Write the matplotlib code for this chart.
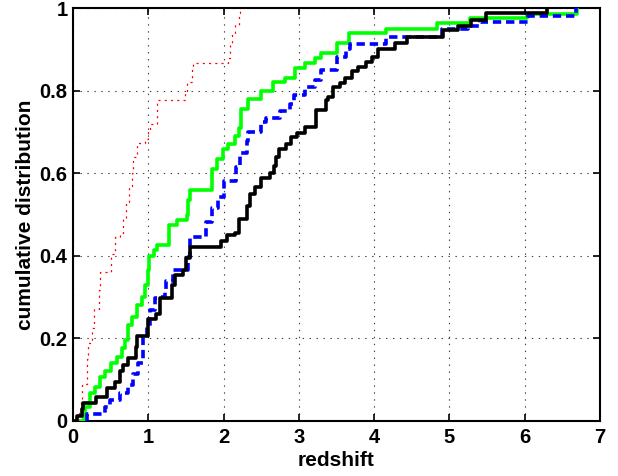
import matplotlib
matplotlib.use("Agg")
import matplotlib.pyplot as plt
import numpy as np

plt.rcParams['font.family'] = ['Liberation Sans', 'DejaVu Sans']
plt.rcParams['font.weight'] = 'bold'
plt.rcParams['lines.scale_dashes'] = False

# step CDFs: x where each jump occurs, and the level after the jump
red_x = [0.08, 0.08, 0.10, 0.12, 0.18, 0.19, 0.20, 0.25, 0.28, 0.34, 0.36, 0.51, 0.56, 0.62, 0.67,
         0.71, 0.74, 0.78, 0.80, 0.85, 0.96, 1.00, 1.02, 1.11, 1.49, 1.51, 1.58, 1.60, 2.06, 2.08,
         2.11, 2.15, 2.20, 2.22]
red_y = [0.0, 0.02, 0.045, 0.09, 0.107, 0.15, 0.19, 0.225, 0.27, 0.317, 0.36, 0.405, 0.446, 0.455, 0.49,
         0.53, 0.57, 0.60, 0.64, 0.672, 0.683, 0.70, 0.72, 0.777, 0.793, 0.82, 0.85, 0.866, 0.88, 0.913,
         0.937, 0.96, 0.987, 1.0]

green_x = [0.10, 0.14, 0.16, 0.23, 0.29, 0.36, 0.42, 0.51, 0.58, 0.65, 0.69, 0.73, 0.78, 0.85, 0.91,
           0.96, 0.99, 1.01, 1.07, 1.12, 1.27, 1.38, 1.51, 1.53, 1.55, 1.84, 1.91, 1.99, 2.06, 2.15,
           2.20, 2.23, 2.33, 2.50, 2.66, 2.82, 2.95, 3.08, 3.22, 3.30, 3.50, 3.67, 4.16, 4.84, 5.27,
           6.03, 6.69]
green_y = [0.0, 0.018, 0.035, 0.067, 0.083, 0.107, 0.12, 0.14, 0.155, 0.176, 0.196, 0.232, 0.252, 0.28, 0.30,
           0.33, 0.365, 0.40, 0.414, 0.426, 0.475, 0.486, 0.499, 0.535, 0.56, 0.61, 0.634, 0.658, 0.67, 0.69,
           0.71, 0.755, 0.78, 0.80, 0.82, 0.83, 0.855, 0.866, 0.88, 0.89, 0.915, 0.94, 0.95, 0.964, 0.975,
           0.985, 1.0]

blue_x = [0.18, 0.18, 0.42, 0.49, 0.62, 0.73, 0.80, 0.87, 0.93, 0.98, 1.02, 1.09, 1.13, 1.22, 1.24,
          1.33, 1.53, 1.55, 1.77, 1.84, 1.93, 2.00, 2.17, 2.22, 2.31, 2.33, 2.50, 2.57, 2.75, 2.88,
          2.93, 3.08, 3.21, 3.30, 3.50, 3.63, 3.68, 4.16, 4.90, 5.25, 5.40, 6.05, 6.68]
blue_y = [0.0, 0.017, 0.035, 0.05, 0.067, 0.087, 0.115, 0.14, 0.204, 0.228, 0.269, 0.297, 0.30, 0.317, 0.34,
          0.366, 0.398, 0.446, 0.483, 0.515, 0.543, 0.58, 0.616, 0.648, 0.677, 0.70, 0.725, 0.733, 0.75, 0.768,
          0.79, 0.808, 0.826, 0.85, 0.882, 0.90, 0.913, 0.93, 0.949, 0.957, 0.967, 0.98, 1.0]

black_x = [0.03, 0.05, 0.115, 0.137, 0.31, 0.45, 0.56, 0.62, 0.66, 0.73, 0.84, 0.85, 0.99, 1.10, 1.16,
           1.31, 1.35, 1.46, 1.50, 1.55, 1.97, 2.04, 2.15, 2.21, 2.31, 2.35, 2.42, 2.50, 2.62, 2.67,
           2.70, 2.73, 2.83, 2.90, 2.97, 3.08, 3.23, 3.36, 3.39, 3.45, 3.54, 3.61, 3.70, 3.79, 3.89,
           3.97, 4.05, 4.28, 4.43, 4.91, 5.11, 5.29, 5.48, 6.29]
black_y = [0.0, 0.012, 0.028, 0.043, 0.057, 0.079, 0.095, 0.12, 0.135, 0.152, 0.18, 0.206, 0.246, 0.26, 0.297,
           0.33, 0.353, 0.365, 0.394, 0.422, 0.436, 0.45, 0.455, 0.49, 0.52, 0.55, 0.567, 0.588, 0.60, 0.618,
           0.64, 0.658, 0.67, 0.688, 0.698, 0.712, 0.753, 0.777, 0.785, 0.808, 0.819, 0.83, 0.848, 0.858, 0.87,
           0.882, 0.90, 0.915, 0.93, 0.947, 0.957, 0.971, 0.987, 1.0]

x_ticks = [0, 1, 2, 3, 4, 5, 6, 7]
y_ticks = [0, 0.2, 0.4, 0.6, 0.8, 1]
y_tick_labels = ['0', '0.2', '0.4', '0.6', '0.8', '1']

fig = plt.figure(figsize=(6.18, 4.76), dpi=100)
ax = fig.add_axes([73/618, 1 - 421/476, 527/618, 413/476])

ax.plot(red_x, red_y, drawstyle='steps-post', color='#ff0000', lw=0.9, linestyle=(0, (1.5, 3)), zorder=3)
ax.plot(green_x, green_y, drawstyle='steps-post', color='#00ff00', lw=2.6, zorder=3)
ax.plot(blue_x, blue_y, drawstyle='steps-post', color='#0000ff', lw=2.6, linestyle=(0, (6, 3.5)), zorder=4)
ax.plot(black_x, black_y, drawstyle='steps-post', color='black', lw=2.6, zorder=5)

ax.set_xlim(0, 7)
ax.set_ylim(0, 1)
ax.set_xticks(x_ticks)
ax.set_xticklabels([str(t) for t in x_ticks])
ax.set_yticks(y_ticks)
ax.set_yticklabels(y_tick_labels)
ax.grid(True, color='0.25', linestyle=(0, (1, 4)), lw=0.8)
ax.tick_params(direction='in', length=5, width=1.2, top=True, right=True, labelsize=14.5)
ax.tick_params(axis='x', pad=5)
ax.tick_params(axis='y', pad=4)
for lab in ax.get_xticklabels() + ax.get_yticklabels():
    lab.set_fontweight('bold')
for s in ax.spines.values():
    s.set_linewidth(1.5)

ax.set_xlabel('redshift', fontsize=15, fontweight='bold')
ax.set_ylabel('cumulative distribution', fontsize=15, fontweight='bold')
ax.xaxis.label.set_va('center')
ax.yaxis.label.set_va('center')
ax.xaxis.set_label_coords(0.5, (421 - 461) / 413)
ax.yaxis.set_label_coords((26 - 73) / 527, 0.5)

fig.savefig('out.png', dpi=100)
